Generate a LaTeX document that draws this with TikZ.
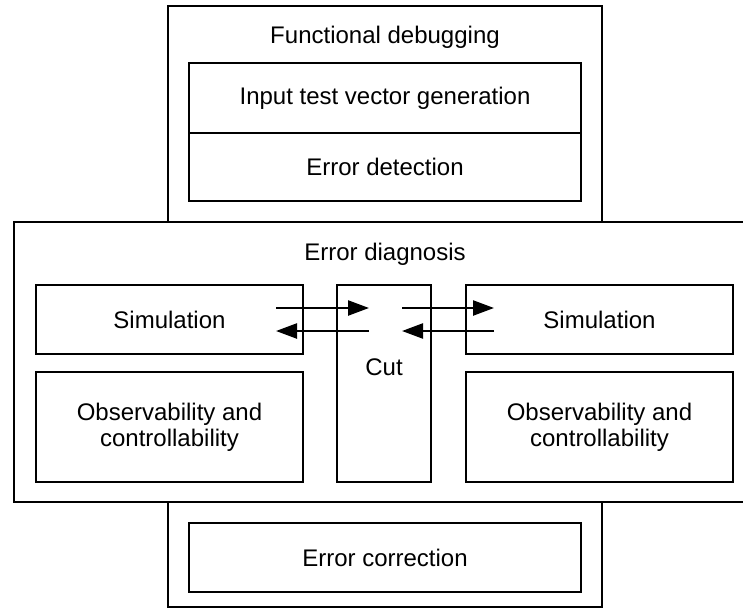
\documentclass[tikz,border=0pt]{standalone}
\usepackage{fontspec}
\setmainfont{Liberation Sans}
\usetikzlibrary{fit,arrows.meta}
\begin{document}
\begin{tikzpicture}[x=0.5pt,y=-0.5pt,
  box/.style={draw, line width=1.2pt, inner sep=0pt, fill=white},
  lbl/.style={font=\fontsize{12}{13}\selectfont, align=center, inner sep=0pt},
  flow/.style={line width=1.2pt, -{Triangle[length=10.5pt,width=7.5pt]}}]
\useasboundingbox (0,0) rectangle (743,610);
\begin{scope}
\clip (0,0) rectangle (743,610);
% functional debugging outer frame
\node[box, fit={(168,6)(602,607)}] (fd) {};
\node[lbl] (fdl) at (385,37) {Functional debugging};
\node[box, fit={(189,63)(581,133)}] (itv) {};
\node[lbl] (itvl) at (itv.center) {Input test vector generation};
\node[box, fit={(189,133)(581,201)}] (edet) {};
\node[lbl] (edetl) at (edet.center) {Error detection};
% error diagnosis
\node[box, fit={(14,222)(756,502)}] (ed) {};
\node[lbl] (edl) at (385,254) {Error diagnosis};
\node[box, fit={(36,285)(303,354)}] (simL) {};
\node[lbl] (simLl) at (simL.center) {Simulation};
\node[box, fit={(36,372)(303,482)}] (obsL) {};
\node[lbl] (obsLl) at (obsL.center) {Observability and\\controllability};
\node[box, fit={(337,285)(431,482)}] (cut) {};
\node[lbl] (cutl) at (384,367) {Cut};
\node[box, fit={(466,285)(733,354)}] (simR) {};
\node[lbl] (simRl) at (simR.center) {Simulation};
\node[box, fit={(466,372)(733,482)}] (obsR) {};
\node[lbl] (obsRl) at (obsR.center) {Observability and\\controllability};
% error correction
\node[box, fit={(189,523)(581,592)}] (ec) {};
\node[lbl] (ecl) at (ec.center) {Error correction};
% arrows
\coordinate (a1) at (276,308);
\coordinate (a2) at (369,308);
\coordinate (b1) at (369,331);
\coordinate (b2) at (276,331);
\coordinate (c1) at (402,308);
\coordinate (c2) at (494,308);
\coordinate (d1) at (494,331);
\coordinate (d2) at (402,331);
\draw[flow] (a1) -- (a2);
\draw[flow] (b1) -- (b2);
\draw[flow] (c1) -- (c2);
\draw[flow] (d1) -- (d2);
\end{scope}
\end{tikzpicture}
\end{document}
